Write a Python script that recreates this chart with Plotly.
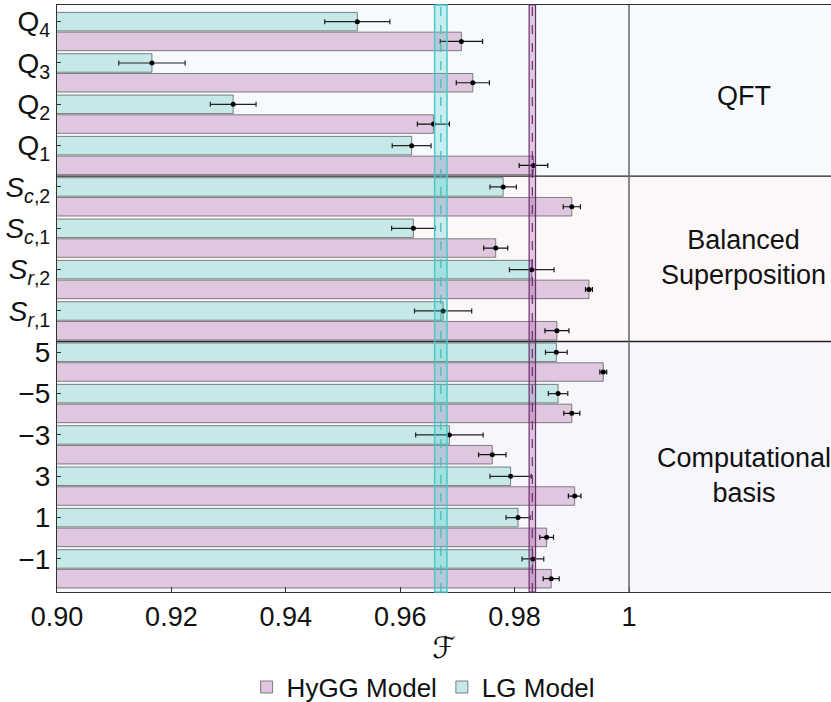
import plotly.graph_objects as go

# ---------------- data ----------------
labels = ["Q<sub>4</sub>", "Q<sub>3</sub>", "Q<sub>2</sub>", "Q<sub>1</sub>",
          "<i>S</i><sub><i>c</i>,2</sub>", "<i>S</i><sub><i>c</i>,1</sub>",
          "<i>S</i><sub><i>r</i>,2</sub>", "<i>S</i><sub><i>r</i>,1</sub>",
          "5", "\u22125", "\u22123", "3", "1", "\u22121"]

lg_vals = [0.9525, 0.9166, 0.9308, 0.9620, 0.9780, 0.9623, 0.9830, 0.9675,
           0.9873, 0.9876, 0.9686, 0.9793, 0.9806, 0.9832]
lg_err = [0.0057, 0.0058, 0.0040, 0.0034, 0.0023, 0.0038, 0.0039, 0.0050,
          0.0019, 0.0017, 0.0059, 0.0036, 0.0021, 0.0019]

hygg_vals = [0.9707, 0.9727, 0.9658, 0.9833, 0.9900, 0.9767, 0.9930, 0.9874,
             0.9955, 0.9900, 0.9761, 0.9905, 0.9856, 0.9864]
hygg_err = [0.0037, 0.0029, 0.0028, 0.0025, 0.0015, 0.0021, 0.0006, 0.0021,
            0.0006, 0.0014, 0.0024, 0.0011, 0.0012, 0.0014]

lg_mean, lg_band = 0.9671, 0.00108
hygg_mean, hygg_band = 0.9831, 0.00056

sections = ["QFT", "Balanced<br>Superposition", "Computational<br>basis"]
section_counts = [4, 4, 6]
section_label_y = [2.02, 5.94, 11.2]
section_bg = ["#f6fafc", "#fcf8f8", "#f7f6fc"]

x_ticks = [0.90, 0.92, 0.94, 0.96, 0.98, 1.0]
x_ticktext = ["0.90", "0.92", "0.94", "0.96", "0.98", "1"]

# ---------------- styling ----------------
LG_FILL = "#c6e8e8"
HY_FILL = "#e0c7e0"
EDGE = "rgba(90,90,90,0.75)"
FONT = "Liberation Sans, Arial, sans-serif"
BW = 0.448

n = len(labels)
y_lg = [i + 0.224 for i in range(n)]
y_hy = [i + 0.702 for i in range(n)]

fig = go.Figure()

fig.add_trace(go.Bar(
    name="HyGG Model", orientation="h", x=hygg_vals, y=y_hy, width=BW,
    marker=dict(color=HY_FILL, line=dict(color=EDGE, width=1)),
    error_x=dict(type="data", array=hygg_err, color="#111", thickness=1.2, width=2.5),
))
fig.add_trace(go.Bar(
    name="LG Model", orientation="h", x=lg_vals, y=y_lg, width=BW,
    marker=dict(color=LG_FILL, line=dict(color=EDGE, width=1)),
    error_x=dict(type="data", array=lg_err, color="#222", thickness=1.2, width=2.5),
))
fig.add_trace(go.Scatter(
    x=hygg_vals + lg_vals, y=y_hy + y_lg, mode="markers",
    marker=dict(color="black", size=5), showlegend=False, hoverinfo="skip",
))

shapes = []
y_top, y_bot = -0.179, 14.024
bounds = [y_top]
acc = 0
for c in section_counts:
    acc += c
    bounds.append(acc - 0.0365)
bounds[-1] = y_bot
for k in range(len(section_counts)):
    shapes.append(dict(type="rect", xref="paper", yref="y", x0=0, x1=1,
                       y0=bounds[k], y1=bounds[k + 1], fillcolor=section_bg[k],
                       line=dict(width=0), layer="below"))
for b in bounds[1:-1]:
    shapes.append(dict(type="line", xref="paper", yref="y", x0=0, x1=1, y0=b, y1=b,
                       line=dict(color="#222", width=1.3), layer="above"))
shapes.append(dict(type="line", xref="x", yref="paper", x0=1.0, x1=1.0, y0=0, y1=1,
                   line=dict(color="#666", width=1.5), layer="above"))
shapes.append(dict(type="rect", xref="x", yref="paper", x0=lg_mean - lg_band, x1=lg_mean + lg_band,
                   y0=0, y1=1, fillcolor="rgba(60,200,200,0.25)",
                   line=dict(color="#4cc8c8", width=1.5), layer="above"))
shapes.append(dict(type="line", xref="x", yref="paper", x0=lg_mean, x1=lg_mean, y0=0, y1=1,
                   line=dict(color="#40c0c0", width=1.3, dash="dash"), layer="above"))
shapes.append(dict(type="rect", xref="x", yref="paper", x0=hygg_mean - hygg_band, x1=hygg_mean + hygg_band,
                   y0=0, y1=1, fillcolor="rgba(120,40,120,0.22)",
                   line=dict(color="#6e2a6e", width=1.2), layer="above"))
shapes.append(dict(type="line", xref="x", yref="paper", x0=hygg_mean, x1=hygg_mean, y0=0, y1=1,
                   line=dict(color="#6e2a6e", width=1.2, dash="dash"), layer="above"))

annotations = []
for txt, yy in zip(sections, section_label_y):
    annotations.append(dict(text=txt, xref="paper", yref="y", x=0.887, y=yy,
                            showarrow=False, xanchor="center", yanchor="middle",
                            font=dict(family=FONT, size=27, color="#111")))

fig.update_layout(
    width=831, height=702,
    margin=dict(l=57, r=0, t=5, b=110, autoexpand=False),
    paper_bgcolor="white", plot_bgcolor="white",
    barmode="overlay",
    shapes=shapes, annotations=annotations,
    font=dict(family=FONT, size=26, color="#111"),
    legend=dict(orientation="h", x=0.473, xanchor="center", y=-0.162, yanchor="middle",
                font=dict(family=FONT, size=26, color="#111"), itemwidth=30,
                traceorder="normal", bgcolor="rgba(0,0,0,0)"),
    xaxis=dict(range=[0.9, 0.9 + 774 / 5720], tickvals=x_ticks, ticktext=x_ticktext,
               ticks="inside", ticklen=5, tickcolor="#333", showgrid=False, zeroline=False,
               showline=True, linecolor="#333", linewidth=1.3, mirror=True, automargin=False,
               tickfont=dict(family=FONT, size=27, color="#111"),
               title=dict(text="\u2131", font=dict(family="DejaVu Serif, DejaVu Sans", size=30, color="#111"),
                          standoff=6)),
    yaxis=dict(range=[y_bot, y_top], tickvals=y_lg, ticktext=labels,
               ticks="inside", ticklen=4, tickcolor="#333", showgrid=False, zeroline=False,
               showline=True, linecolor="#333", linewidth=1.3, mirror=False, automargin=False,
               tickfont=dict(family=FONT, size=28, color="#111")),
)

fig.write_html("out.html", config={"displayModeBar": False},
               post_script="document.body.style.margin='0';document.body.style.overflow='hidden';")
